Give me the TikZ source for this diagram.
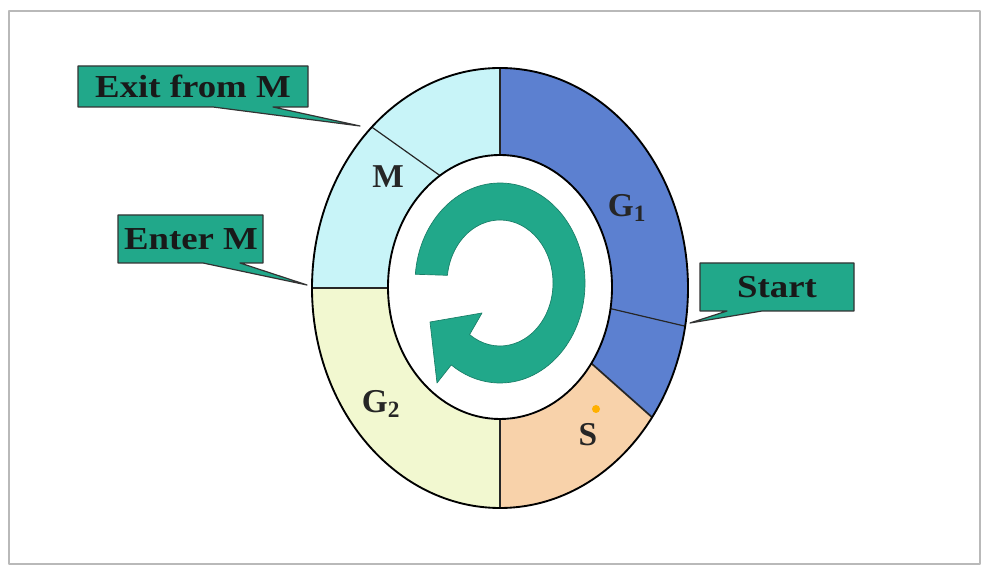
\documentclass[tikz,border=0pt]{standalone}
\usepackage{fontspec}
\setmainfont{Liberation Serif}
\definecolor{tealbox}{RGB}{33,168,138}
\definecolor{blueG}{RGB}{92,128,208}
\definecolor{cyanM}{RGB}{200,244,248}
\definecolor{yelG}{RGB}{242,248,208}
\definecolor{peachS}{RGB}{248,210,170}
\definecolor{dotor}{RGB}{255,176,0}
\newcommand{\ringsector}[5]{%
 \fill[#5] ({500+188*cos(#1)},{282+220*sin(#1)}) arc[start angle=#1,end angle=#2,x radius=188,y radius=220]
   -- ({500+112*cos(#4)},{282+132*sin(#4)}) arc[start angle=#4,end angle=#3,x radius=112,y radius=132] -- cycle;}
\begin{document}
\begin{tikzpicture}[x=0.75pt,y=0.75pt,line join=round,
 callout/.style={fill=tealbox,draw=black!80,line width=0.9pt},
 calltext/.style={font=\fontsize{24}{26}\selectfont\bfseries,text=black!90,xscale=1.15,inner sep=0pt},
 ringlabel/.style={font=\fontsize{25}{27}\selectfont\bfseries,text=black!85,inner sep=0pt},
 divline/.style={draw=black!85,line width=0.9pt},
 rim/.style={draw=black,line width=1.4pt}]
\useasboundingbox (0,0) rectangle (984,570);
\draw[gray!55,line width=1.2pt] (9,6) rectangle (980,559);

% ring sectors
\ringsector{90}{133}{90}{122}{cyanM}
\ringsector{133}{180}{122}{180}{cyanM}
\ringsector{180}{270}{180}{270}{yelG}
\ringsector{270}{324}{270}{325}{peachS}
\ringsector{324}{350}{325}{351}{blueG}
\ringsector{-10}{90}{-9}{90}{blueG}

% boundary coordinates
\coordinate (o90) at (500,502);  \coordinate (i90) at (500,414);
\coordinate (o133) at ({500+188*cos(133)},{282+220*sin(133)});
\coordinate (i122) at ({500+112*cos(122)},{282+132*sin(122)});
\coordinate (o180) at (312,282); \coordinate (i180) at (388,282);
\coordinate (o270) at (500,62);  \coordinate (i270) at (500,150);
\coordinate (o324) at ({500+188*cos(324)},{282+220*sin(324)});
\coordinate (i325) at ({500+112*cos(325)},{282+132*sin(325)});
\coordinate (o350) at ({500+188*cos(350)},{282+220*sin(350)});
\coordinate (i351) at ({500+112*cos(351)},{282+132*sin(351)});

\draw[divline] (o90) -- (i90);
\draw[divline] (o133) -- (i122);
\draw[divline] (o180) -- (i180);
\draw[divline] (o270) -- (i270);
\draw[divline,line width=1.3pt] (o324) -- (i325);
\draw[divline] (o350) -- (i351);

\draw[rim] (500,282) ellipse [x radius=188,y radius=220];
\draw[rim,fill=white] (500,283) ellipse [x radius=112,y radius=132];

% circular arrow
\fill[tealbox,draw=tealbox!75!black,line width=0.5pt]
 ({500+85*cos(175)},{287+100*sin(175)}) arc[start angle=175,end angle=-125,x radius=85,y radius=100]
 -- (437,187) -- (430,248) -- (482,257)
 -- ({500+53*cos(-125)},{287+63*sin(-125)}) arc[start angle=-125,end angle=173,x radius=53,y radius=63] -- cycle;

% ring labels
\node[ringlabel] (lM) at (388,393) {M};
\node[ringlabel] (lG1) at (627,362) {G\textsubscript{1}};
\node[ringlabel] (lG2) at (381,166) {G\textsubscript{2}};
\node[ringlabel] (lS) at (588,135) {S};
\fill[dotor] (596,161) circle (4);

% callouts
\coordinate (exitTip) at (360,444);
\draw[callout] (78,463) -- (213,463) -- (exitTip) -- (273,463) -- (308,463) -- (308,504) -- (78,504) -- cycle;
\node[calltext] (exitM) at (193,484) {Exit from M};

\coordinate (enterTip) at (307,285);
\draw[callout] (118,307) -- (203,307) -- (enterTip) -- (240,307) -- (263,307) -- (263,355) -- (118,355) -- cycle;
\node[calltext] (enterM) at (191,331) {Enter M};

\coordinate (startTip) at (690,247);
\draw[callout] (700,259) -- (727,259) -- (startTip) -- (762,259) -- (854,259) -- (854,307) -- (700,307) -- cycle;
\node[calltext] (start) at (777,283) {Start};
\end{tikzpicture}
\end{document}
